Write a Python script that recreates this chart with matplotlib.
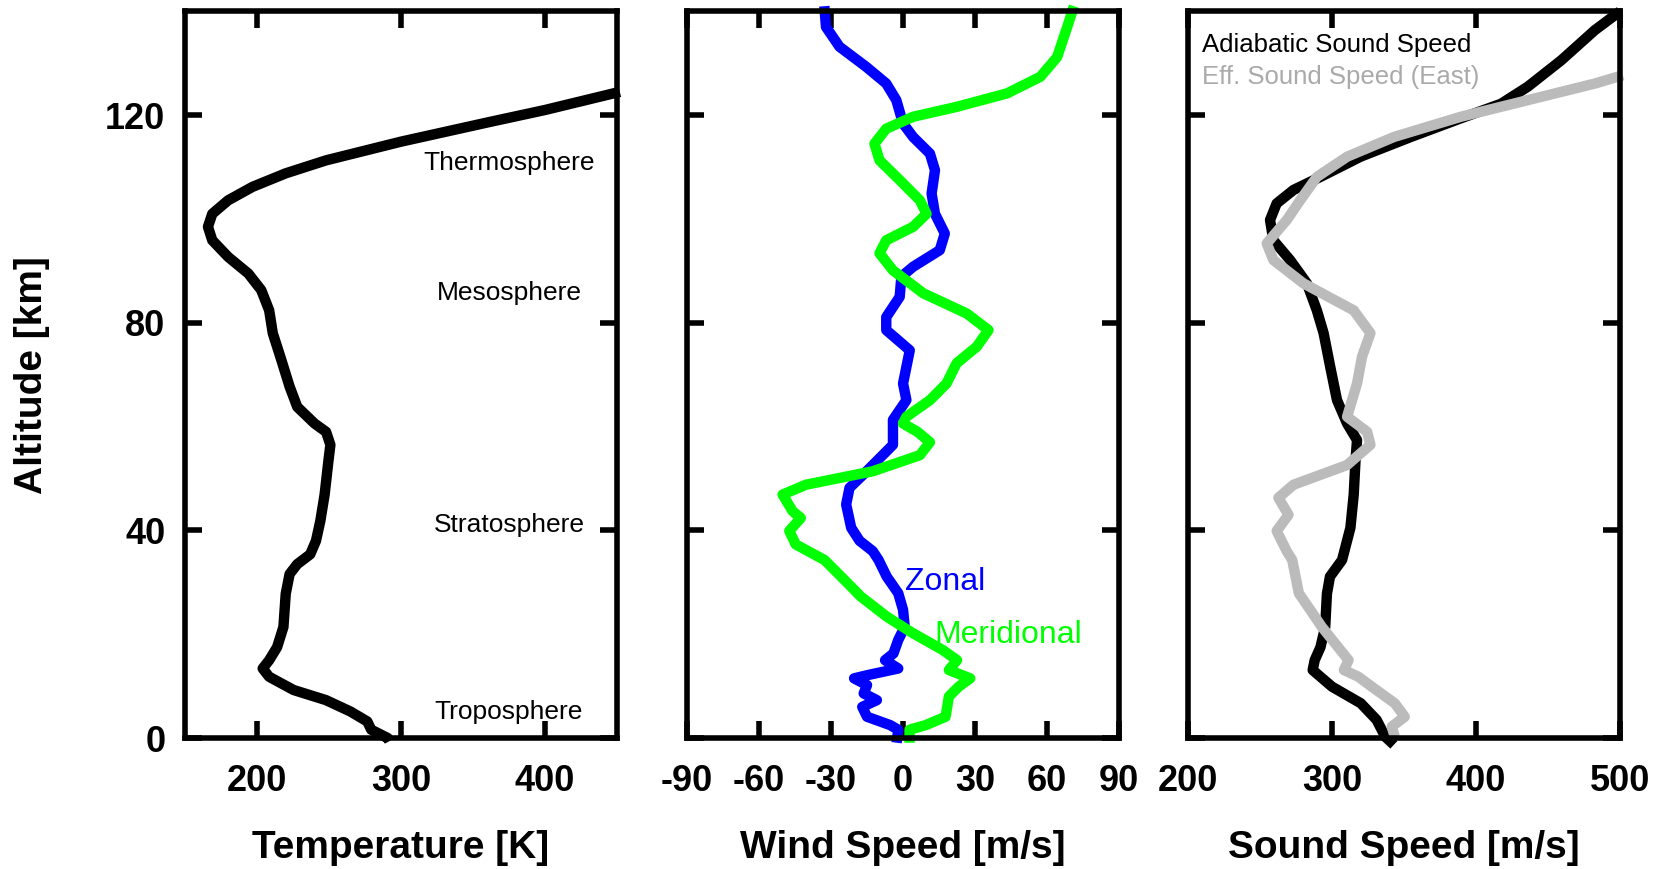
import matplotlib
matplotlib.use("Agg")
import matplotlib.pyplot as plt

plt.rcParams['font.family'] = ['Liberation Sans', 'DejaVu Sans']
plt.rcParams['axes.unicode_minus'] = False

# temperature profile
temp_k = [292, 290.8, 279.4, 276.6, 265, 248, 225.5, 208.5, 204, 208.5, 214, 218.4, 220, 222.7,
          228, 237, 241, 244, 247, 249.6, 251, 248, 240, 228, 222.7, 217, 211, 208.5, 203, 194,
          180, 169, 166, 169, 180, 197, 220, 248, 300, 361.7, 400, 452]
temp_alt = [-0.6, 0, 1.6, 3.2, 5.1, 7.3, 9.25, 11.8, 13.4, 15, 17.5, 21.4, 27.8, 31.6,
            33.5, 35.4, 38, 41.8, 46.9, 53.3, 56.5, 59, 60.6, 63.8, 67.7, 72.8, 78, 82.4, 86.3, 89.5,
            92.7, 95.9, 98.5, 101, 103.6, 106.2, 108.8, 111.3, 114.9, 118.7, 121, 124.5]

# winds
zonal = [-2.7, -2, -5.4, -15, -17, -10.9, -16.4, -15, -20.4, -15, -2, -7.5, -4, -2, 0.7, 0,
         -2, -6.8, -10.2, -12.6, -18.1, -21.6, -23.7, -22.3, -16.7, -9.8, -4.2, -4.2, -4.2, 1.4,
         0, 1.4, 2.8, -7, -7, -1.4, -0.7, 4.2, 15.3, 17.4, 13.3, 11.9, 13.3, 11.2, 4.2, 0,
         -2.8, -7, -15.3, -26.5, -32.1, -32.8]
zonal_alt = [-0.9, 1.6, 2.5, 4.1, 6, 7.3, 8.6, 10.2, 11.5, 12.1, 13.4, 15, 16.3, 18.9, 21.4, 24.7,
             27.9, 31.1, 34.3, 36, 38, 40.5, 45, 48.2, 50.7, 53.9, 56.5, 58.5, 61.3, 65.1,
             68.3, 71.5, 74.7, 78.6, 81.1, 85, 88.9, 90.8, 94, 97.2, 101, 104.9, 109.4, 112.6, 115.8, 118.4,
             122.9, 126.1, 129.3, 133.2, 137, 141]

merid = [2.7, 2.7, 9.5, 17.7, 18.4, 19.1, 23.2, 28, 19.1, 22.5, 16.4, 4.1, -6.8, -17.7, -24.5,
         -32.7, -44.7, -47.4, -42.6, -46, -50.2, -40.5, -12.6, 7, 11.2, 6, 0, 1.4, 11.2, 18.1,
         22.3, 30.7, 35.6, 26.5, 8.4, -4.2, -9.8, -7, 4.2, 9.8, 7, -1.4, -9.8, -11.9, -7, 4.2,
         22.3, 43.3, 57.2, 64.2, 68.4, 71.2]
merid_alt = [-0.9, 1.6, 2.5, 4.1, 6, 8, 9.9, 11.5, 13.1, 15, 17, 20.2, 23.4, 27.3, 30.5,
             34.3, 37.3, 39.9, 42.4, 43.7, 46.9, 48.8, 51.4, 54.5, 57, 59, 60.6, 61.9, 65.1, 68.3,
             72.2, 75.4, 78.6, 81.8, 85.7, 90.1, 93.4, 95.9, 98.5, 101, 103.6, 107.5, 111.3, 114.5, 117.4, 119.7,
             121.6, 124.2, 127.4, 131.2, 137, 141]

# sound speeds
c_adiab = [343, 337, 331, 320, 300, 286.6, 288, 292, 295.3, 296.5, 298.6, 307, 312.8, 315.1,
           316.3, 317.4, 310.5, 303.5, 298.8, 294.2, 289.5, 282.6, 270.9, 259.3, 257, 261.6,
           273.3, 291.9, 319.8, 354.7, 389.5, 417.4, 436, 459.3, 482.6, 500]
c_adiab_alt = [-1.3, 0.25, 3.5, 6.7, 9.9, 13.1, 15, 17.5, 21.4, 27.8, 31.1, 34.3, 40.5, 46.9,
               53.3, 57.4, 60.6, 65.1, 71.5, 78, 82.4, 87.6, 92.1, 95.9, 99.8, 103,
               105.6, 108.1, 112, 115.8, 119.4, 122.2, 125.5, 130.6, 136.4, 140]

c_eff = [343.6, 341.5, 350.5, 343.6, 327.6, 318.4, 308.3, 311.5, 293, 277, 272.4, 268.6, 261.6,
         269.8, 262.8, 273.3, 310.5, 326.7, 324.4, 310.5, 317.4, 320.9, 326.7, 315.1, 280.2,
         259.3, 254.7, 268.6, 277.9, 289.5, 310.5, 343, 389.5, 436, 482.6, 502]
c_eff_alt = [0.25, 2.2, 4.1, 6.7, 9.9, 11.8, 13.1, 15, 21.4, 27.9, 34.3, 36, 39.9,
             43, 46.3, 48.8, 52.6, 56.5, 59, 61.9, 68.3, 73.5, 78, 82.4, 87.6,
             92.1, 95.3, 99.8, 103.6, 108.1, 112, 115.8, 119.7, 122.9, 126.1, 127.7]

layers = ['Thermosphere', 'Mesosphere', 'Stratosphere', 'Troposphere']
layer_alt = [110.8, 85.7, 41, 5.1]

fig = plt.figure(figsize=(16.72, 8.69), dpi=100)
w, h, b = 0.2584, 0.8362, 0.1507
ax1 = fig.add_axes([0.1106, b, w, h])
ax2 = fig.add_axes([0.4109, b, w, h])
ax3 = fig.add_axes([0.7105, b, w, h])

lw = 7.5
style = dict(lw=lw, clip_on=False, solid_joinstyle='round', solid_capstyle='butt')
ax1.plot(temp_k, temp_alt, color='black', **style)
ax2.plot(zonal, zonal_alt, color='#0000ff', **style)
ax2.plot(merid, merid_alt, color='#00ff00', **style)
ax3.plot(c_adiab, c_adiab_alt, color='black', **style)
ax3.plot(c_eff, c_eff_alt, color='#bbbbbb', **style)

for name, a in zip(layers, layer_alt):
    ax1.text(375, a, name, ha='center', va='center', fontsize=19)

ax2.text(0.7, 30.1, 'Zonal', color='#0000ff', fontsize=23, ha='left', va='center')
ax2.text(13.2, 19.8, 'Meridional', color='#00ff00', fontsize=23, ha='left', va='center')

ax3.text(209.7, 133.5, 'Adiabatic Sound Speed', color='black', fontsize=18.5, va='center')
ax3.text(209.7, 127.4, 'Eff. Sound Speed (East)', color='#aaaaaa', fontsize=18.5, va='center')

ax1.set_xlim(150, 450)
ax1.set_xticks([200, 300, 400])
ax2.set_xlim(-90, 90)
ax2.set_xticks([-90, -60, -30, 0, 30, 60, 90])
ax3.set_xlim(200, 500)
ax3.set_xticks([200, 300, 400, 500])

xlabels = ['Temperature [K]', 'Wind Speed [m/s]', 'Sound Speed [m/s]']
for ax, lab in zip([ax1, ax2, ax3], xlabels):
    ax.set_ylim(0, 140)
    ax.set_yticks([0, 40, 80, 120])
    for s in ax.spines.values():
        s.set_linewidth(4)
    ax.tick_params(direction='in', length=12, width=4, top=True, right=True,
                   labelsize=26, pad=19)
    for t in ax.get_xticklabels() + ax.get_yticklabels():
        t.set_fontweight('bold')
    ax.set_xlabel(lab, fontsize=28, fontweight='bold')
    ax.xaxis.set_label_coords(0.5, -0.126)

ax1.tick_params(axis='y', pad=14)
ax2.tick_params(labelleft=False)
ax3.tick_params(labelleft=False)

fig.text(0.0191, 0.568, 'Altitude [km]', rotation=90, ha='center', va='center',
         fontsize=28, fontweight='bold')

fig.savefig('out.png', dpi=100)
